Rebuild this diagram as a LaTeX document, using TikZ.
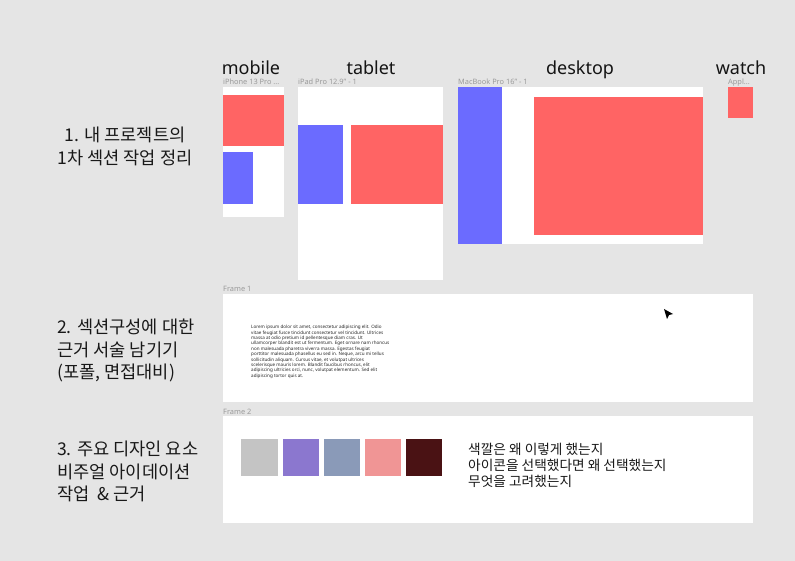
\documentclass[tikz,border=0pt]{standalone}
\usepackage{fontspec}
\setmainfont{Noto Sans}
\newfontfamily\kr{Noto Sans CJK KR}
\definecolor{bg}{HTML}{E5E5E5}
\definecolor{pblue}{HTML}{6B6BFF}
\definecolor{pred}{HTML}{FF6464}
\definecolor{smallgray}{HTML}{9A9A9A}
\definecolor{swA}{HTML}{C4C4C4}
\definecolor{swB}{HTML}{8B77CF}
\definecolor{swC}{HTML}{8A9AB8}
\definecolor{swD}{HTML}{F09595}
\definecolor{swE}{HTML}{4A1214}
\begin{document}
\begin{tikzpicture}[x=1pt,y=-1pt,
  devlabel/.style={anchor=base,inner sep=0,text depth=0pt,font=\fontsize{18}{20}\selectfont,text=black!92},
  tinylabel/.style={anchor=base west,inner sep=0,text height=5pt,text depth=0pt,font=\fontsize{7.4}{8}\selectfont,text=smallgray},
  krleft/.style={anchor=base west,inner sep=0,font=\kr\fontsize{17.6}{20}\selectfont,text=black!90},
  krnote/.style={anchor=base west,inner sep=0,font=\kr\fontsize{13.7}{16}\selectfont,text=black!90},
  lorem/.style={anchor=north west,inner sep=0,align=left,font=\fontsize{4.55}{5.4}\selectfont,text=black!85}]
\fill[bg] (0,0) rectangle (795,561);
\useasboundingbox (0,0) rectangle (795,561);
% device labels
\node[devlabel] (lmob) at (251,75) {mobile};
\node[devlabel] (ltab) at (371,75) {tablet};
\node[devlabel] (ldesk) at (580,75) {desktop};
\node[devlabel] (lwatch) at (741,75) {watch};
\node[tinylabel] (smob) at (223,85) {iPhone 13 Pro ...};
\node[tinylabel] (stab) at (298,85) {iPad Pro 12.9" - 1};
\node[tinylabel] (sdesk) at (458,85) {MacBook Pro 16" - 1};
\node[tinylabel] (swatch) at (728,85) {Appl...};
% mobile
\fill[white] (223,87) rectangle (284,217);
\fill[pred] (223,95) rectangle (284,146);
\fill[pblue] (223,152) rectangle (253,204);
% tablet
\fill[white] (298,87) rectangle (443,280);
\fill[pblue] (298,125) rectangle (343,204);
\fill[pred] (351,125) rectangle (443,204);
% desktop
\fill[white] (458,87) rectangle (703,244);
\fill[pblue] (458,87) rectangle (502,244);
\fill[pred] (534,97) rectangle (703,235);
% watch
\fill[pred] (728,87) rectangle (753,118);
% frame 1
\node[tinylabel] (f1) at (223,292) {Frame 1};
\fill[white] (223,294) rectangle (753,402);
\node[lorem] (lor) at (251,325) {Lorem ipsum dolor sit amet, consectetur adipiscing elit. Odio\\
vitae feugiat fusce tincidunt consectetur vel tincidunt. Ultrices\\
massa at odio pretium id pellentesque diam cras. Ut\\
ullamcorper blandit est ut fermentum. Eget ornare nam rhoncus\\
non malesuada pharetra viverra massa. Egestas feugiat\\
porttitor malesuada phasellus eu sed in. Neque, arcu mi tellus\\
sollicitudin aliquam. Cursus vitae, et volutpat ultrices\\
scelerisque mauris lorem. Blandit faucibus rhoncus, elit\\
adipiscing ultricies orci, nunc, volutpat elementum. Sed elit\\
adipiscing tortor quis at.};
% cursor
\fill[black] (664,309) -- (673,314) -- (669,315) -- (667,319) -- cycle;
% frame 2
\node[tinylabel] (f2) at (223,414) {Frame 2};
\fill[white] (223,416) rectangle (753,523);
\fill[swA] (241,439) rectangle (278,476);
\fill[swB] (283,439) rectangle (319,476);
\fill[swC] (324,439) rectangle (360,476);
\fill[swD] (365,439) rectangle (401,476);
\fill[swE] (406,439) rectangle (442,476);
\node[krnote] (n1) at (468,454) {색깔은 왜 이렇게 했는지};
\node[krnote] (n2) at (468,470) {아이콘을 선택했다면 왜 선택했는지};
\node[krnote] (n3) at (468,486) {무엇을 고려했는지};
% left labels
\node[krleft,anchor=base] (a1) at (125,142) {1. 내 프로젝트의};
\node[krleft,anchor=base] (a2) at (125,165) {1차 섹션 작업 정리};
\node[krleft] (b1) at (57,333) {2. 섹션구성에 대한};
\node[krleft] (b2) at (57,356) {근거 서술 남기기};
\node[krleft] (b3) at (57,378) {(포폴, 면접대비)};
\node[krleft] (c1) at (57,455) {3. 주요 디자인 요소};
\node[krleft] (c2) at (57,478) {비주얼 아이데이션};
\node[krleft] (c3) at (57,500) {작업\ \ \& 근거};
\end{tikzpicture}
\end{document}
